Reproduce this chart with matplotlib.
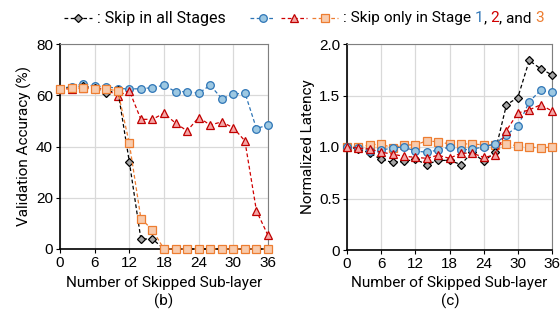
import matplotlib
matplotlib.use("Agg")
import matplotlib.pyplot as plt
from matplotlib.lines import Line2D

plt.rcParams['font.family'] = ['Roboto', 'DejaVu Sans']

x = [0, 2, 4, 6, 8, 10, 12, 14, 16, 18, 20, 22, 24, 26, 28, 30, 32, 34, 36]

acc_all = [62.5, 63.0, 63.5, 63.0, 61.0, 62.0, 34.0, 3.9, 3.9, 0, 0, 0, 0, 0, 0, 0, 0, 0, 0]
acc_s1 = [62.6, 63.4, 64.4, 63.5, 63.4, 62.6, 62.5, 62.5, 63.0, 63.9, 61.4, 61.4, 60.8, 63.9, 58.7, 60.3, 61.0, 47.0, 48.4]
acc_s2 = [62.3, 62.6, 62.7, 63.0, 62.3, 59.7, 61.8, 50.6, 50.6, 53.0, 49.1, 46.1, 51.3, 48.4, 49.6, 47.3, 42.2, 14.9, 5.3]
acc_s3 = [62.5, 62.8, 62.8, 62.3, 62.5, 61.7, 41.2, 11.9, 7.4, 0, 0, 0, 0, 0, 0, 0, 0, 0, 0]

lat_all = [1.0, 0.98, 0.94, 0.88, 0.85, 0.86, 0.88, 0.83, 0.87, 0.87, 0.83, 0.95, 0.86, 0.95, 1.41, 1.48, 1.84, 1.76, 1.70]
lat_s1 = [1.0, 0.99, 0.96, 0.97, 0.99, 1.0, 0.96, 0.95, 0.97, 1.0, 0.97, 0.98, 1.0, 1.03, 1.12, 1.20, 1.44, 1.55, 1.53]
lat_s2 = [1.0, 0.99, 0.98, 0.95, 0.93, 0.91, 0.90, 0.89, 0.92, 0.89, 0.94, 0.94, 0.90, 0.92, 1.16, 1.33, 1.36, 1.41, 1.35]
lat_s3 = [1.0, 1.0, 1.02, 1.03, 0.99, 1.02, 1.02, 1.06, 1.05, 1.03, 1.03, 1.03, 1.02, 1.02, 1.03, 1.01, 1.0, 0.99, 1.0]

xticks = [0, 6, 12, 18, 24, 30, 36]
acc_ticks = [0, 20, 40, 60, 80]
lat_ticks = [0, 0.5, 1.0, 1.5, 2.0]
lat_ticklabels = ["0", "0.5", "1.0", "1.5", "2.0"]

styles = {
    'all': dict(color='black', marker='D', mfc='#A6A6A6', mec='black', ms=4.2),
    's1': dict(color='#2E75B6', marker='o', mfc='#9DC8E2', mec='#2E75B6', ms=5.5),
    's2': dict(color='#D00000', marker='^', mfc='#F4A6A6', mec='#C00000', ms=5.5),
    's3': dict(color='#ED7D31', marker='s', mfc='#F8CBAD', mec='#ED7D31', ms=5.2),
}
ls = (0, (3, 2))

fig = plt.figure(figsize=(5.6, 3.2), dpi=100)
ax1 = fig.add_axes([60/560, 1-249/320, 208/560, 205/320])
ax2 = fig.add_axes([347/560, 1-250/320, 205/560, 206/320])

def draw(ax, data):
    for key, y in data:
        st = styles[key]
        ax.plot(x, y, linestyle=ls, lw=0.9, color=st['color'], marker=st['marker'],
                mfc=st['mfc'], mec=st['mec'], ms=st['ms'], mew=0.9, clip_on=False, zorder=3)

draw(ax1, [('s1', acc_s1), ('s2', acc_s2), ('all', acc_all), ('s3', acc_s3)])
draw(ax2, [('s3', lat_s3), ('all', lat_all), ('s1', lat_s1), ('s2', lat_s2)])

for ax in (ax1, ax2):
    ax.set_xlim(0, 36)
    ax.set_xticks(xticks)
    ax.grid(True, color='#D9D9D9', lw=0.9)
    ax.set_axisbelow(True)
    ax.spines['left'].set_color('black')
    ax.spines['bottom'].set_color('black')
    ax.spines['left'].set_linewidth(1.2)
    ax.spines['bottom'].set_linewidth(1.2)
    ax.spines['top'].set_color('#7F7F7F')
    ax.spines['right'].set_color('#7F7F7F')
    ax.tick_params(labelsize=11, length=3, width=0.8, pad=2, colors='black')
    ax.set_xlabel("Number of Skipped Sub-layer", fontsize=11, labelpad=4)

ax1.set_ylim(0, 80)
ax1.set_yticks(acc_ticks)
ax1.set_ylabel("Validation Accuracy (%)", fontsize=11, labelpad=3)
ax2.set_ylim(0, 2.0)
ax2.set_yticks(lat_ticks)
ax2.set_yticklabels(lat_ticklabels)
ax2.set_ylabel("Normalized Latency", fontsize=11, labelpad=3)
for ax in (ax1, ax2):
    for lab in ax.get_xticklabels() + ax.get_yticklabels():
        lab.set_family(['Liberation Sans', 'DejaVu Sans'])

fig.text(164/560, 1-301/320, "(b)", fontsize=11, ha='center', va='center')
fig.text(450/560, 1-301/320, "(c)", fontsize=11, ha='center', va='center')

# legend
ly = 1 - 18/320
def handle(x0, x1, key):
    st = styles[key]
    fig.add_artist(Line2D([x0/560, x1/560], [ly, ly], transform=fig.transFigure,
                          linestyle=ls, lw=0.9, color=st['color']))
    fig.add_artist(Line2D([(x0+x1)/2/560], [ly], transform=fig.transFigure,
                          linestyle='none', marker=st['marker'], mfc=st['mfc'],
                          mec=st['mec'], ms=st['ms'], mew=0.9))

handle(64, 92, 'all')
fig.text(97/560, ly, ": Skip in all Stages", fontsize=11.5, va='center', ha='left')
handle(250, 275, 's1')
handle(281, 307, 's2')
handle(312, 338, 's3')

fig.canvas.draw()
r = fig.canvas.get_renderer()
pieces = [(": Skip only in Stage ", 'black'), ("1", '#2E75B6'), (", ", 'black'),
          ("2", '#D00000'), (", and ", 'black'), ("3", '#ED7D31')]
xpos = 343
for s, c in pieces:
    t = fig.text(xpos/560, ly, s, fontsize=11.1, va='center', ha='left', color=c)
    bb = t.get_window_extent(renderer=r)
    xpos = bb.x1

fig.savefig("out.png", dpi=100)
